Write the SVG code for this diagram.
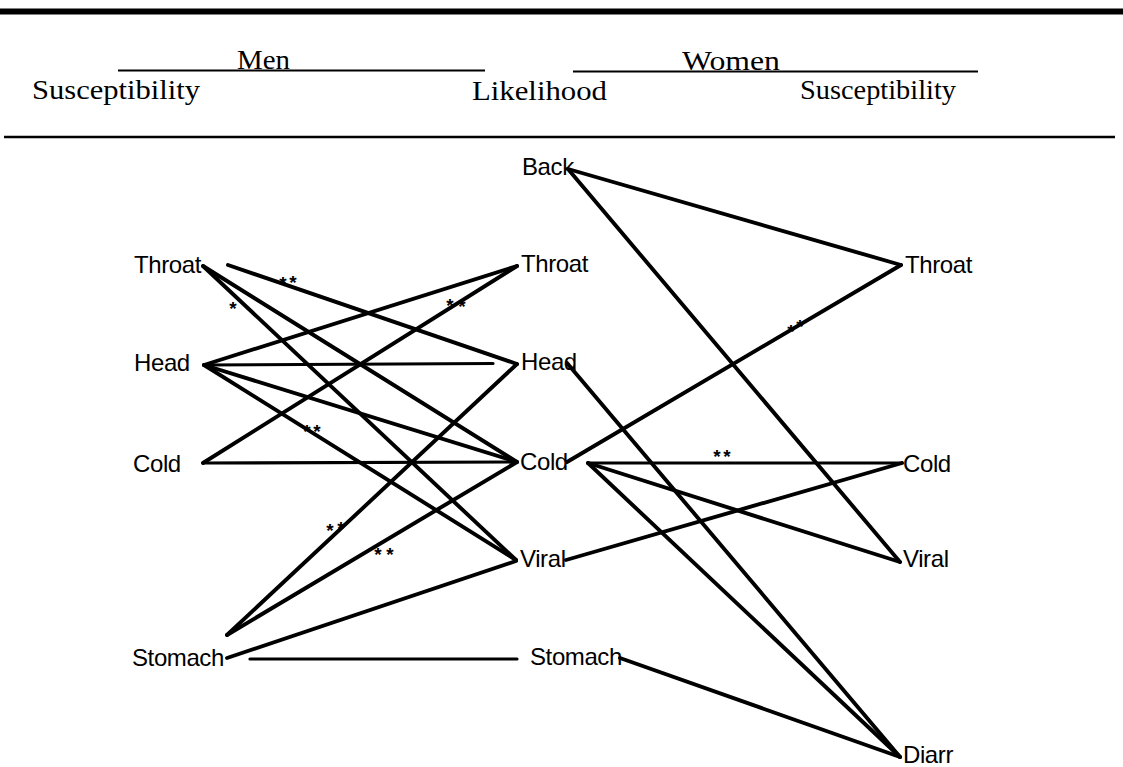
<svg xmlns="http://www.w3.org/2000/svg" width="1123" height="767" viewBox="0 0 1123 767">
  <style>
    .hdr { font-family: "Liberation Serif", "Times New Roman", serif; font-size: 28px; fill: #000; }
    .lbl { font-family: "Liberation Sans", Arial, sans-serif; font-size: 24px; letter-spacing: -0.4px; fill: #000; }
    .star { font-family: "Liberation Sans", Arial, sans-serif; font-size: 19px; font-weight: bold; fill: #000; text-anchor: middle; }
    .rule { stroke: #000; fill: none; }
    .edge { stroke: #000; stroke-width: 3.9; stroke-linecap: round; fill: none; }
    .flat { stroke: #000; stroke-width: 3.2; stroke-linecap: round; fill: none; }
  </style>
  <rect width="1123" height="767" fill="#fff"/>

  <!-- table header -->
  <g id="header">
    <line class="rule" x1="0" y1="11.5" x2="1123" y2="11.5" stroke-width="6"/>
    <line class="rule" x1="118" y1="70.5" x2="485" y2="70.5" stroke-width="2"/>
    <line class="rule" x1="573" y1="71.5" x2="978" y2="71.5" stroke-width="2"/>
    <text class="hdr" x="237" y="69" textLength="53" lengthAdjust="spacingAndGlyphs">Men</text>
    <text class="hdr" x="682" y="70" textLength="98" lengthAdjust="spacingAndGlyphs">Women</text>
    <text class="hdr" x="32" y="99" textLength="168" lengthAdjust="spacingAndGlyphs">Susceptibility</text>
    <text class="hdr" x="472" y="100" textLength="135" lengthAdjust="spacingAndGlyphs">Likelihood</text>
    <text class="hdr" x="800" y="99" textLength="156" lengthAdjust="spacingAndGlyphs">Susceptibility</text>
    <line class="rule" x1="4" y1="137" x2="1115" y2="137" stroke-width="2.5"/>
  </g>

  <!-- connectors -->
  <g id="connectors">
    <!-- men: susceptibility to likelihood -->
    <line class="edge" x1="203" y1="266" x2="517" y2="462"/>
    <line class="edge" x1="203" y1="266" x2="516" y2="560"/>
    <line class="edge" x1="228" y1="265" x2="517" y2="364"/>
    <line class="edge" x1="204" y1="365" x2="517" y2="266"/>
    <line class="flat" x1="204" y1="365" x2="493" y2="363.5"/>
    <line class="edge" x1="204" y1="365" x2="517" y2="462"/>
    <line class="edge" x1="204" y1="365" x2="516" y2="560"/>
    <line class="edge" x1="517" y1="266" x2="203" y2="463"/>
    <line class="flat" x1="203" y1="463" x2="517" y2="462"/>
    <line class="edge" x1="227" y1="635" x2="517" y2="364"/>
    <line class="edge" x1="227" y1="635" x2="517" y2="462"/>
    <line class="edge" x1="227" y1="658" x2="516" y2="561"/>
    <line class="flat" x1="250" y1="659" x2="517" y2="659"/>
    <!-- women: likelihood to susceptibility -->
    <line class="edge" x1="568" y1="169" x2="901" y2="265"/>
    <line class="edge" x1="568" y1="169" x2="900" y2="562"/>
    <line class="edge" x1="567" y1="462" x2="901" y2="265"/>
    <line class="edge" x1="567" y1="363" x2="900" y2="757"/>
    <line class="flat" x1="588" y1="463" x2="902" y2="463"/>
    <line class="edge" x1="588" y1="463" x2="900" y2="562"/>
    <line class="edge" x1="588" y1="463" x2="900" y2="757"/>
    <line class="edge" x1="566" y1="560" x2="902" y2="463"/>
    <line class="edge" x1="620" y1="658" x2="900" y2="757"/>
    <!-- significance marks -->
    <text class="star" x="283" y="290">*</text>
    <text class="star" x="293" y="289">*</text>
    <text class="star" x="233" y="315">*</text>
    <text class="star" x="450" y="312">*</text>
    <text class="star" x="462" y="313">*</text>
    <text class="star" x="307" y="438">*</text>
    <text class="star" x="317" y="438">*</text>
    <text class="star" x="330" y="537">*</text>
    <text class="star" x="341" y="535">*</text>
    <text class="star" x="378" y="561">*</text>
    <text class="star" x="390" y="561">*</text>
    <text class="star" x="717" y="463">*</text>
    <text class="star" x="727" y="463">*</text>
    <text class="star" x="791" y="338">*</text>
    <text class="star" x="800" y="333">*</text>
  </g>

  <!-- men susceptibility -->
  <g id="m-sus-throat"><text class="lbl" x="134" y="273">Throat</text></g>
  <g id="m-sus-head"><text class="lbl" x="134" y="371">Head</text></g>
  <g id="m-sus-cold"><text class="lbl" x="133" y="472">Cold</text></g>
  <g id="m-sus-stomach"><text class="lbl" x="132" y="666">Stomach</text></g>

  <!-- likelihood -->
  <g id="lik-back"><text class="lbl" x="522" y="175">Back</text></g>
  <g id="lik-throat"><text class="lbl" x="521" y="272">Throat</text></g>
  <g id="lik-head"><text class="lbl" x="521" y="370">Head</text></g>
  <g id="lik-cold"><text class="lbl" x="520" y="470">Cold</text></g>
  <g id="lik-viral"><text class="lbl" x="520" y="567">Viral</text></g>
  <g id="lik-stomach"><text class="lbl" x="530" y="665">Stomach</text></g>

  <!-- women susceptibility -->
  <g id="w-sus-throat"><text class="lbl" x="905" y="273">Throat</text></g>
  <g id="w-sus-cold"><text class="lbl" x="903" y="472">Cold</text></g>
  <g id="w-sus-viral"><text class="lbl" x="903" y="567">Viral</text></g>
  <g id="w-sus-diarr"><text class="lbl" x="903" y="763">Diarr</text></g>
</svg>
